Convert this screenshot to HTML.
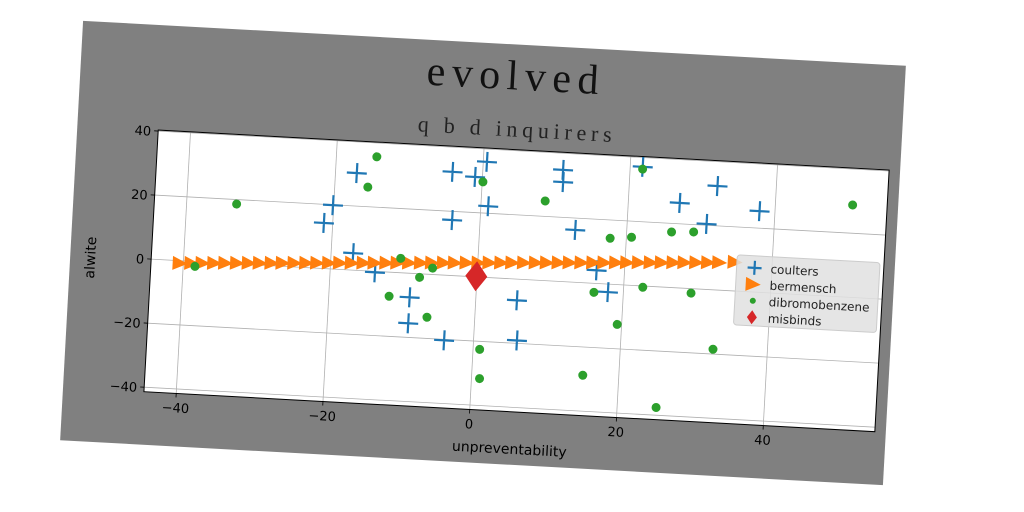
<!DOCTYPE html>
<html><head><meta charset="utf-8">
<style>
html,body{margin:0;padding:0;background:#fff;}
#root{position:relative;width:1024px;height:512px;overflow:hidden;background:#fff;}
#fig{position:absolute;left:71px;top:43px;width:824px;height:420px;background:#808080;transform:rotate(3.13deg);transform-origin:412px 210px;}
svg text{font-family:"DejaVu Sans","Liberation Sans",sans-serif;}
</style></head>
<body>
<div id="root">
<div id="fig">
<svg id="chart" width="824" height="420"></svg>
</div></div>
<script>
const xTicks=[-40,-20,0,20,40];
const yTicks=[-40,-20,0,20,40];
const coultersX=[-17.1,-4.1,-1.0,0.5,1.0,-3.8,-20.1,-21.2,-17.0,-13.9,-9.0,-9.0,-4.0,5.6,5.9,10.9,11.0,21.7,32.0,27.0,37.9,30.8,13.0,16.2,17.9];
const coultersY=[30.3,32.3,31.1,36.0,22.2,17.3,19.9,14.2,5.3,-0.3,-7.5,-15.6,-20.3,-6.6,-19.1,34.8,31.0,37.1,32.4,26.5,25.3,20.4,16.3,4.1,-2.5];
const bermenschX=[-40.5,-38.9,-37.4,-35.8,-34.3,-32.7,-31.1,-29.6,-28.0,-26.5,-24.9,-23.3,-21.8,-20.2,-18.7,-17.1,-15.5,-14.0,-12.4,-10.9,-9.3,-7.7,-6.2,-4.6,-3.1,-1.5,0.1,1.6,3.2,4.7,6.3,7.9,9.4,11.0,12.5,14.1,15.7,17.2,18.8,20.3,21.9,23.5,25.0,26.6,28.1,29.7,31.3,32.8,34.9];
const bermenschY=[-0.8,-0.6,-0.4,-0.2,0.0,0.2,0.4,0.6,0.8,1.0,1.2,1.4,1.6,1.8,2.0,2.2,2.4,2.6,2.8,3.0,3.2,3.4,3.6,3.8,4.0,4.2,4.4,4.6,4.8,5.0,5.2,5.4,5.6,5.8,6.0,6.2,6.4,6.6,6.8,7.0,7.2,7.4,7.6,7.8,8.0,8.2,8.4,8.6,9.0];
const dibromoX=[-14.5,-15.5,-33.2,-38.4,-10.5,-6.1,-7.8,-11.8,-6.5,0.9,1.1,0.1,8.7,21.7,50.5,17.8,20.7,26.1,29.1,16.0,22.6,29.2,19.4,32.6,15.1,25.3];
const dibromoY=[35.7,26.1,18.6,-1.5,4.5,2.0,-1.1,-7.5,-13.4,-22.5,-31.6,29.7,24.8,36.4,28.8,14.3,15.0,17.3,17.7,-2.8,-0.4,-1.4,-12.4,-18.5,-28.8,-37.6];
const misbindsX=[-0.1];
const misbindsY=[0.2];

const NS='http://www.w3.org/2000/svg';
const svg=document.getElementById('chart');
const AX={l:81,t:105,r:813,b:367};
const XMIN=-44.4,XMAX=55.2,YMIN=-41.4,YMAX=40.3;
function sx(v){return AX.l+(v-XMIN)/(XMAX-XMIN)*(AX.r-AX.l);}
function sy(v){return AX.b-(v-YMIN)/(YMAX-YMIN)*(AX.b-AX.t);}
function mk(tag,attrs,parent){const e=document.createElementNS(NS,tag);for(const k in attrs)e.setAttribute(k,attrs[k]);(parent||svg).appendChild(e);return e;}

const bg=mk('rect',{x:AX.l,y:AX.t,width:AX.r-AX.l,height:AX.b-AX.t,fill:'#fff'});



xTicks.forEach(v=>{
  const g=mk('line',{x1:sx(v),x2:sx(v),y1:AX.t,y2:AX.b,stroke:'#b0b0b0','stroke-width':0.8});
  
  
  const t=mk('line',{x1:sx(v),x2:sx(v),y1:AX.b,y2:AX.b+4,stroke:'#000','stroke-width':0.8});
  
  
  const lb=mk('text',{x:sx(v),y:AX.b+19,'text-anchor':'middle','font-size':13,fill:'#000'});
  lb.textContent=v<0?'\u2212'+Math.abs(v):String(v);
  
  
});
yTicks.forEach(v=>{
  const g=mk('line',{x1:AX.l,x2:AX.r,y1:sy(v),y2:sy(v),stroke:'#b0b0b0','stroke-width':0.8});
  
  
  const t=mk('line',{x1:AX.l-4,x2:AX.l,y1:sy(v),y2:sy(v),stroke:'#000','stroke-width':0.8});
  
  
  const lb=mk('text',{x:AX.l-7,y:sy(v)+5,'text-anchor':'end','font-size':13,fill:'#000'});
  lb.textContent=v<0?'\u2212'+Math.abs(v):String(v);
  
  
});

function cross(cx,cy,name,parent,s){
  s=s||10;
  const g=mk('path',{d:`M${cx-s},${cy}H${cx+s}M${cx},${cy-s}V${cy+s}`,stroke:'#1f77b4','stroke-width':2.2,fill:'none'},parent);
  
  
}
function tri(cx,cy,name,parent){
  const g=mk('path',{d:`M${cx-7},${cy-7}L${cx+8},${cy}L${cx-7},${cy+7}Z`,fill:'#ff7f0e'},parent);
  
  
}
function dot(cx,cy,r,name,parent){
  const g=mk('circle',{cx:cx,cy:cy,r:r,fill:'#2ca02c'},parent);
  
  
}
function diamond(cx,cy,w,h,name,parent){
  const g=mk('path',{d:`M${cx},${cy-h}L${cx+w},${cy}L${cx},${cy+h}L${cx-w},${cy}Z`,fill:'#d62728'},parent);
  
  
}
coultersX.forEach((x,i)=>cross(sx(x),sy(coultersY[i]),'coulters-point'));
bermenschX.forEach((x,i)=>tri(sx(x),sy(bermenschY[i]),'bermensch-point'));
dibromoX.forEach((x,i)=>dot(sx(x),sy(dibromoY[i]),4.5,'dibromobenzene-point'));
misbindsX.forEach((x,i)=>diamond(sx(x),sy(misbindsY[i]),11,15,'misbinds-point'));

const frame=mk('rect',{x:AX.l,y:AX.t,width:AX.r-AX.l,height:AX.b-AX.t,fill:'none',stroke:'#000','stroke-width':1});



const lg=mk('g',{});


mk('rect',{x:666,y:198,width:143,height:70,rx:3,fill:'#e0e0e0','fill-opacity':0.85,stroke:'#ccc'},lg);
const items=[['coulters','c'],['bermensch','t'],['dibromobenzene','d'],['misbinds','m']];
items.forEach((it,i)=>{
  const y=210+i*16.5;
  if(it[1]==='c')cross(684,y,'legend-marker-coulters',lg,7);
  if(it[1]==='t')tri(683,y,'legend-marker-bermensch',lg);
  if(it[1]==='d')dot(684,y,3,'legend-marker-dibromobenzene',lg);
  if(it[1]==='m')diamond(684,y,5,7,'legend-marker-misbinds',lg);
  const t=mk('text',{x:700,y:y+4.5,'font-size':12,fill:'#222'},lg);
  t.textContent=it[0];
  
  
});

const title=mk('text',{x:432,y:45,'text-anchor':'middle','font-size':42,fill:'#111',textLength:172,lengthAdjust:'spacing',style:'font-family:"Liberation Serif",serif'});
title.textContent='evolved';


const sub=mk('text',{x:437,y:92,'text-anchor':'middle','font-size':22,fill:'#222',textLength:194,lengthAdjust:'spacing',style:'font-family:"Liberation Serif",serif'});
sub.textContent='q b d inquirers';


const xl=mk('text',{x:449,y:409,'text-anchor':'middle','font-size':14,fill:'#000'});
xl.textContent='unpreventability';


const yl=mk('text',{x:25,y:236,'text-anchor':'middle','font-size':14,fill:'#000',transform:'rotate(-90 25 236)'});
yl.textContent='alwite';


</script>
</body></html>
